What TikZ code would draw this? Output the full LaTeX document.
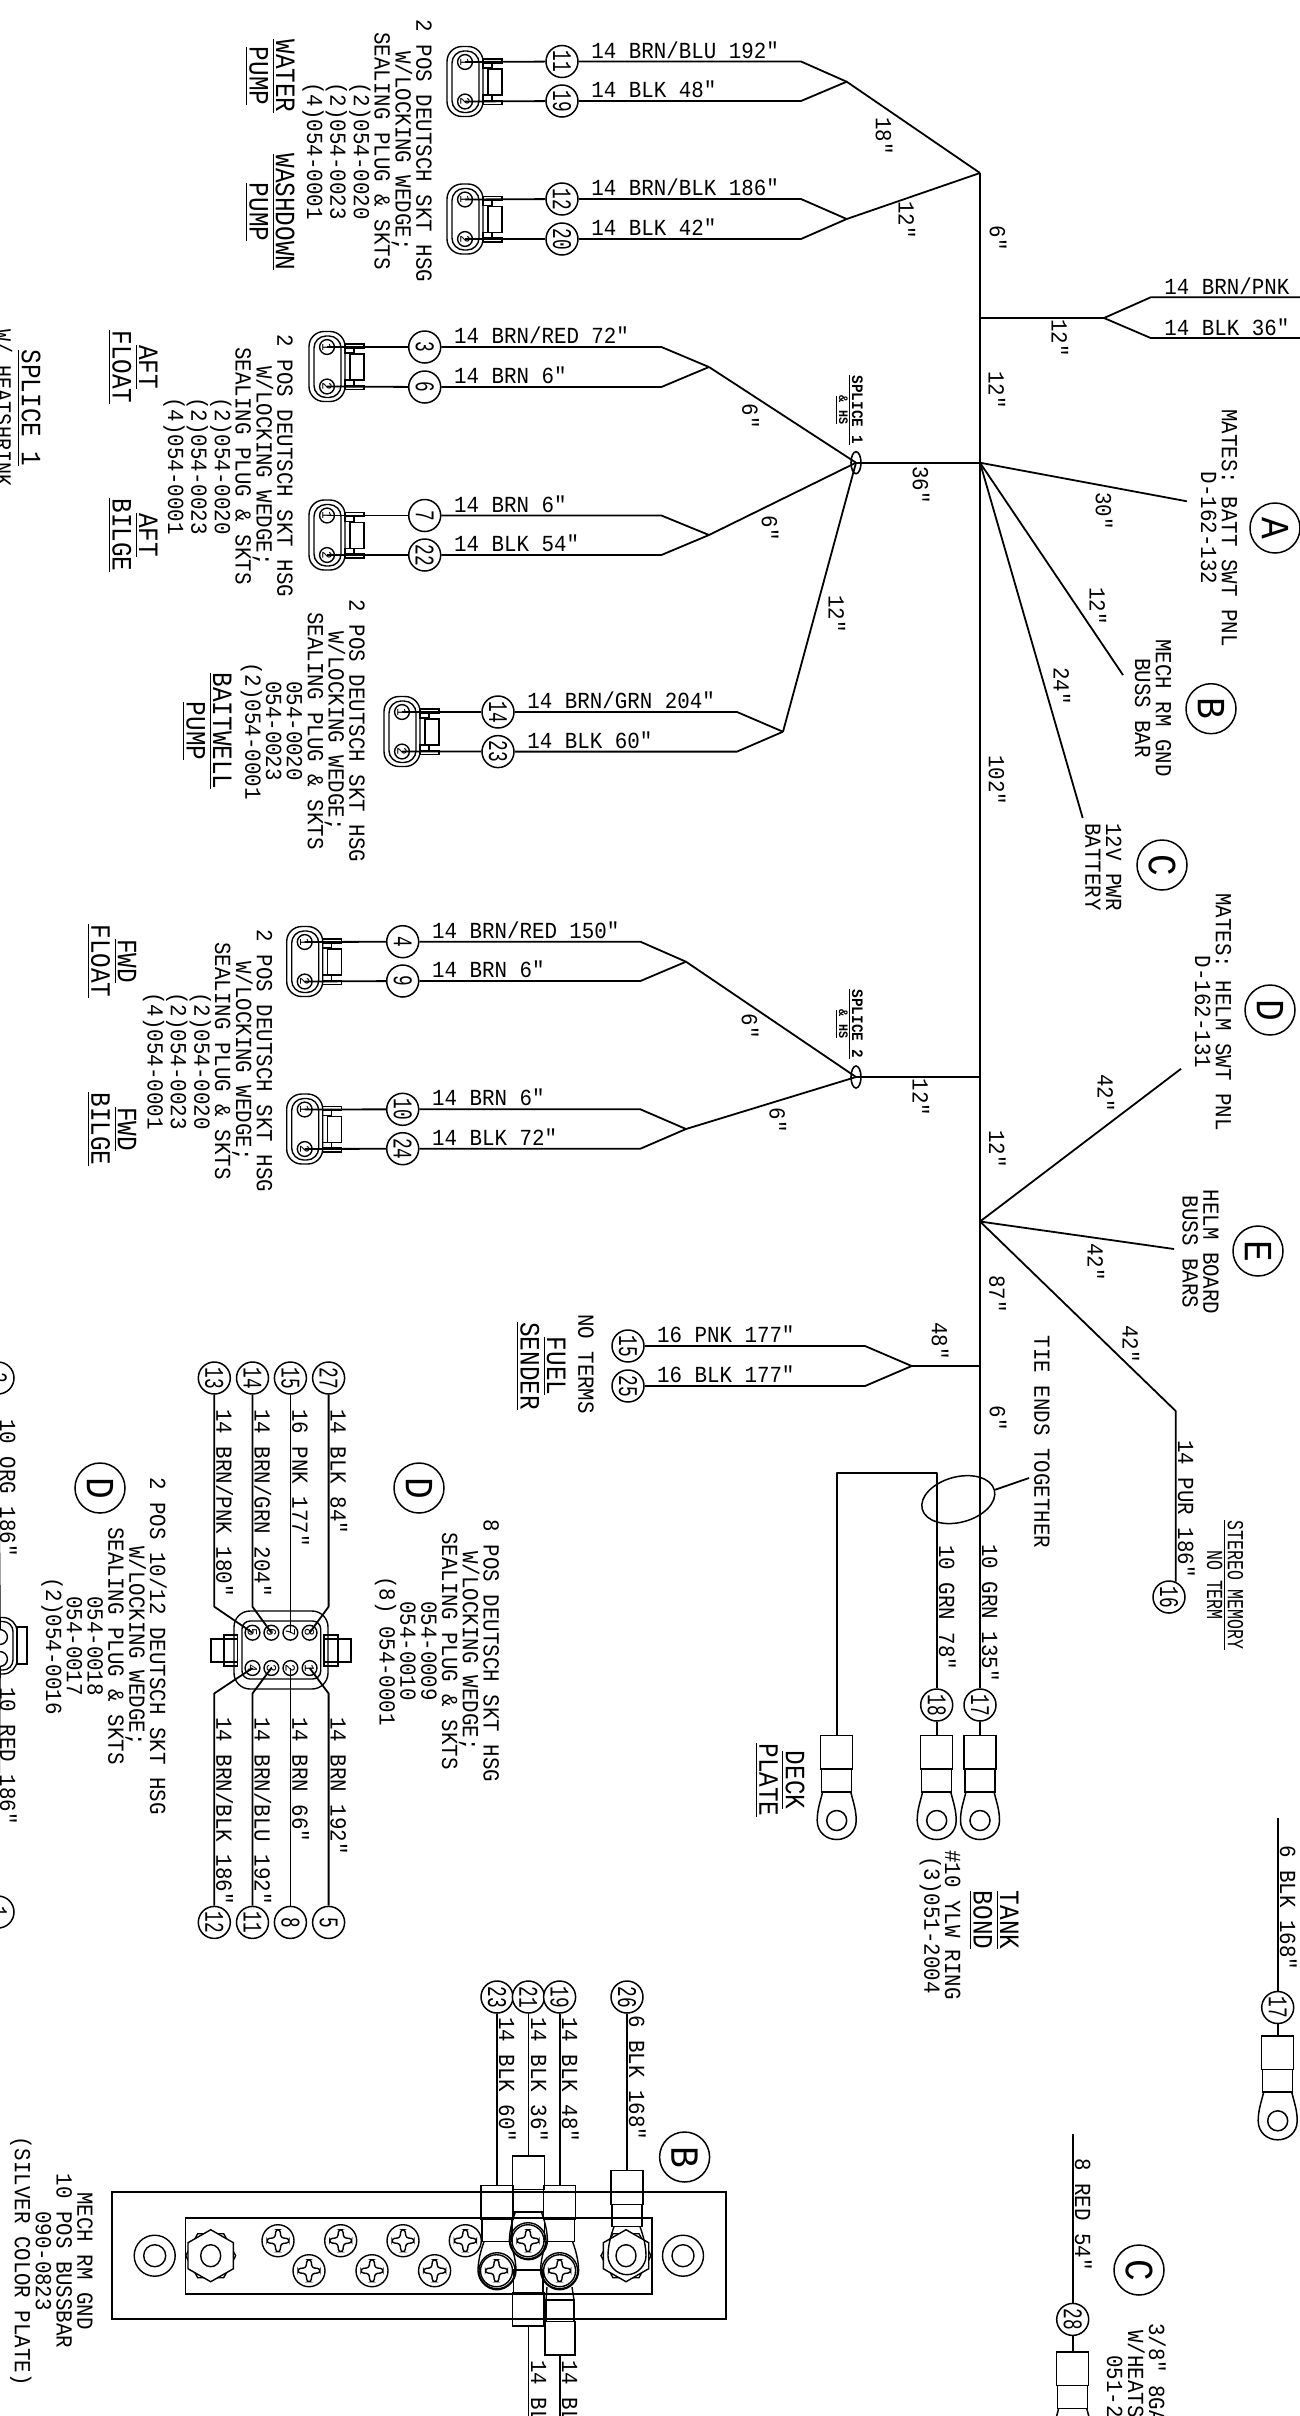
\documentclass[tikz,border=0pt]{standalone}
\usepackage{fontspec}
\usetikzlibrary{shapes.geometric}
\setmainfont[FakeStretch=0.905]{Liberation Mono}
\newfontfamily\titlefam[FakeStretch=0.87]{Liberation Mono}
\newfontfamily\boldfam[FakeStretch=0.9]{Liberation Mono Bold}
\newfontfamily\circfam[FakeStretch=0.66]{Liberation Mono}
\newfontfamily\narrowfam[FakeStretch=0.72]{Liberation Mono}
\newcommand{\fLab}{\fontsize{11.5}{10.4}\selectfont}
\newcommand{\fTit}{\titlefam\fontsize{14}{13.2}\selectfont}
\newcommand{\fBig}{\fontsize{20}{20}\selectfont}
\newcommand{\fPin}{\fontsize{7}{7}\selectfont}
\newcommand{\fSpl}{\boldfam\fontsize{8}{7.5}\selectfont}
\newcommand{\fCirc}{\circfam\fontsize{13.5}{13.5}\selectfont}
\newcommand{\fNar}{\narrowfam\fontsize{11.5}{10.4}\selectfont}
\tikzset{
 wire/.style={line width=0.9pt,line join=round},
 trunk/.style={line width=1.25pt,line join=round},
 thinl/.style={line width=0.7pt},
 wl/.style={anchor=base west,inner sep=0pt,font=\fLab},
 wr/.style={rotate=-90,anchor=base west,inner sep=0pt,font=\fLab},
 blk/.style={rotate=-90,align=center,inner sep=0pt,font=\fLab},
 tit/.style={rotate=-90,align=center,inner sep=0pt,font=\fTit},
 spl/.style={rotate=-90,align=center,inner sep=0pt,font=\fSpl},
 dim/.style={rotate=-90,inner sep=0pt,font=\fLab},
 wc/.style={draw,circle,line width=0.75pt,minimum size=16pt,inner sep=0pt,rotate=-90,font=\fCirc,fill=white},
 bc/.style={draw,circle,line width=0.75pt,minimum size=25pt,inner sep=0pt,rotate=-90,font=\fBig},
 pinc/.style={draw,circle,line width=0.7pt,minimum size=7.4pt,inner sep=0pt,rotate=-90,font=\fPin},
 splc/.style={draw,ellipse,line width=0.8pt,minimum width=5pt,minimum height=11pt,inner sep=0pt},
}
% two-pin housing: #1 name, #2 pin x, #3 pin-1 y
\newcommand{\dtwo}[3]{%
 \begin{scope}[shift={(#2,#3)},thinl]
  \draw[rounded corners=7.5pt] (-18,-15.5) rectangle (18,54.5);
  \draw[rounded corners=6pt] (-13,-11) rectangle (14,50.5);
  \draw (18,-3) rectangle (37,1);
  \draw (18,38.5) rectangle (37,42.5);
  \draw (23,7) rectangle (37,33);
  \draw (18,1) rectangle (27,6);
  \draw (18,33) rectangle (27,38.5);
  \node[pinc] (#1a) at (0,0) {1};
  \node[pinc] (#1b) at (0,39.5) {2};
 \end{scope}}
% one wire leg: #1 name, #2 number, #3 circle x, #4 y, #5 pin node, #6 bend x, #7 merge, #8 label
\newcommand{\leg}[8]{%
 \node[wc] (#1) at (#3,#4) {#2};
 \coordinate (#1b) at (#6,#4);
 \draw[wire] (#5.center) -- (#1);
 \draw[wire] (#1) -- (#1b) -- (#7);
 \node[wl] (#1t) at ({#3+29},{#4-3.5}) {#8};}
% ring terminal: #1 name of top coordinate, #2 x, #3 top y
\newcommand{\ringterm}[3]{%
 \coordinate (#1) at (#2,#3);
 \begin{scope}[shift={(#2,#3)},line width=0.75pt]
  \draw (-16,0) rectangle (16,33.5);
  \draw (-15,33.5) rectangle (15,56.3);
  \draw (-14,56.3) .. controls (-17,68) and (-19.5,75) .. (-19.5,85)
   .. controls (-19.5,97) and (-10,104) .. (0,104)
   .. controls (10,104) and (19.5,97) .. (19.5,85)
   .. controls (19.5,75) and (17,68) .. (14,56.3);
  \draw (0,85) circle [radius=10];
 \end{scope}}
% screw on the bar
\newcommand{\screw}[2]{%
 \begin{scope}[shift={(#1,#2)},thinl]
  \draw (0,0) circle [radius=16];
  \draw[rounded corners=1.2pt] (-2,-11) -- (2,-11) -- (3,-3) -- (11,-2) -- (11,2) -- (3,3) -- (2,11) -- (-2,11) -- (-3,3) -- (-11,2) -- (-11,-2) -- (-3,-3) -- cycle;
 \end{scope}}
% nut
\newcommand{\nut}[2]{%
 \begin{scope}[shift={(#1,#2)},thinl]
  \draw (-25,0) -- (-13,-22) -- (13,-22) -- (25,0) -- (13,22) -- (-13,22) -- cycle;
  \draw[fill=white] (0,-26) -- (22.7,-13) -- (22.7,13) -- (0,26) -- (-22.7,13) -- (-22.7,-13) -- cycle;
  \draw (0,0) ellipse [x radius=10,y radius=11];
 \end{scope}}
% terminal on the bar: #1 x, #2 top y, #3 screw y
\newcommand{\busterm}[3]{%
 \begin{scope}[shift={(#1,#2)},thinl]
  \draw (-16,0) rectangle (16,33.5);
  \draw (-15,33.5) rectangle (15,56);
 \end{scope}
 \draw[thinl] ({#1-13},{#2+56}) .. controls ({#1-16},{#2+64}) and ({#1-19},{#3-10}) .. ({#1-19},#3)
   .. controls ({#1-19},{#3+10}) and ({#1-10},{#3+19}) .. (#1,{#3+19})
   .. controls ({#1+10},{#3+19}) and ({#1+19},{#3+10}) .. ({#1+19},#3)
   .. controls ({#1+19},{#3-10}) and ({#1+16},{#2+64}) .. ({#1+13},{#2+56});}
\begin{document}
\begin{tikzpicture}[x=0.5pt,y=-0.5pt]
\path[use as bounding box,fill=white] (0,0) rectangle (1300,2416);
\clip (0,0) rectangle (1300,2416);
% trunk and junctions
\coordinate (jt) at (980,173);
\coordinate (jb) at (980,318);
\coordinate (j1) at (980,462.7);
\coordinate (j2) at (980,1077);
\coordinate (j3) at (980,1221.5);
\coordinate (j4) at (980,1366);
\node[wc] (w17a) at (980,1705) {17};
\draw[trunk] (jt) -- (w17a);
% top connectors
\coordinate (m1) at (846.7,81.7);
\coordinate (m2) at (846.7,219);
\dtwo{ca}{465}{62}
\leg{w11}{11}{562}{61.5}{caa}{801}{m1}{14 BRN/BLU 192″}
\leg{w19}{19}{562}{101}{cab}{801}{m1}{14 BLK 48″}
\dtwo{cb}{465}{199.5}
\leg{w12}{12}{562}{199}{cba}{801}{m2}{14 BRN/BLK 186″}
\leg{w20}{20}{562}{239}{cbb}{801}{m2}{14 BLK 42″}
\draw[wire] (m1) -- (jt);
\draw[wire] (m2) -- (jt);
\node[blk] (b1) at (367,151) {2 POS DEUTSCH SKT HSG\\W/LOCKING WEDGE;\\SEALING PLUG \& SKTS\\(2)054-0020\\(2)054-0023\\(4)054-0001};
\node[tit] (t1) at (270,76) {\underline{WATER}\\\underline{PUMP}};
\node[tit] (t2) at (270,212) {\underline{WASHDOWN}\\\underline{PUMP}};
\node[dim] (d1) at (884,136) {18″};
\node[dim] (d2) at (907,220) {12″};
\node[dim] (d3) at (998,238) {6″};
% branch to right
\coordinate (f1) at (1104,318);
\coordinate (f1a) at (1150.7,297.3);
\coordinate (f1b) at (1150.7,338);
\coordinate (e1a) at (1300,297.3);
\coordinate (e1b) at (1300,338);
\draw[wire] (jb) -- (f1);
\draw[wire] (f1) -- (f1a) -- (e1a);
\draw[wire] (f1) -- (f1b) -- (e1b);
\node[wl] (l1) at (1164,294) {14 BRN/PNK};
\node[wl] (l2) at (1164,335) {14 BLK 36″};
\node[dim] (d4) at (1060,338) {12″};
\node[dim] (d5) at (997,390) {12″};
% splice 1
\node[splc] (sp1) at (856,462.7) {};
\draw[wire] (sp1.center) -- (j1);
\node[spl] (s1) at (849,410) {\underline{SPLICE 1}\\[-1pt]\underline{\fontsize{6.5}{6.5}\selectfont \& HS}};
\node[dim] (d6) at (921,485) {36″};
\coordinate (m3) at (709,367);
\coordinate (m4) at (709,535);
\dtwo{cc}{327}{347}
\leg{w3}{3}{424.7}{347}{cca}{661.4}{m3}{14 BRN/RED 72″}
\leg{w6}{6}{424.7}{387}{ccb}{661.4}{m3}{14 BRN 6″}
\dtwo{cd}{327}{515.5}
\leg{w7}{7}{424.7}{515.5}{cda}{661.4}{m4}{14 BRN 6″}
\leg{w22}{22}{424.7}{555}{cdb}{661.4}{m4}{14 BLK 54″}
\draw[wire] (m3) -- (sp1.center);
\draw[wire] (m4) -- (sp1.center);
\node[blk] (b2) at (228,466) {2 POS DEUTSCH SKT HSG\\W/LOCKING WEDGE;\\SEALING PLUG \& SKTS\\(2)054-0020\\(2)054-0023\\(4)054-0001};
\node[tit] (t3) at (133,367) {\underline{AFT}\\\underline{FLOAT}};
\node[tit] (t4) at (133,535) {\underline{AFT}\\\underline{BILGE}};
\node[dim] (d7) at (750.6,416) {6″};
\node[dim] (d8) at (770,528) {6″};
\node[dim] (d9) at (837,614) {12″};
\coordinate (m5) at (783,731.7);
\dtwo{ce}{402}{712}
\leg{w14}{14}{498}{712}{cea}{737}{m5}{14 BRN/GRN 204″}
\leg{w23}{23}{498}{751.6}{ceb}{737}{m5}{14 BLK 60″}
\draw[wire] (m5) -- (sp1.center);
\node[blk] (b3) at (302.7,731) {2 POS DEUTSCH SKT HSG\\W/LOCKING WEDGE;\\SEALING PLUG \& SKTS\\054-0020\\054-0023\\(2)054-0001};
\node[tit] (t5) at (207,731) {\underline{BAITWELL}\\\underline{PUMP}};
\node[tit] (t6) at (18,408) {\underline{SPLICE 1}\\{\fLab W/ HEATSHRINK}};
% A B C
\coordinate (ea) at (1187,501.3);
\coordinate (eb) at (1123,675);
\coordinate (ec) at (1082.7,818);
\draw[wire] (j1) -- (ea);
\draw[wire] (j1) -- (eb);
\draw[wire] (j1) -- (ec);
\node[dim] (d10) at (1104,511) {30″};
\node[dim] (d11) at (1098,606) {12″};
\node[dim] (d12) at (1062,686) {24″};
\node[dim] (d13) at (997,780) {102″};
\node[bc] (ca1) at (1275,528) {A};
\node[blk] (b4) at (1219,528) {MATES: BATT SWT PNL\\D-162-132};
\node[bc] (cb1) at (1211,708.7) {B};
\node[blk] (b5) at (1153,708) {MECH RM GND\\BUSS BAR};
\node[bc] (cc1) at (1162,865) {C};
\node[blk] (b6) at (1103.5,867) {12V PWR\\BATTERY};
% forward connectors
\node[splc] (sp2) at (856,1077) {};
\draw[wire] (sp2.center) -- (j2);
\node[spl] (s2) at (849,1024) {\underline{SPLICE 2}\\[-1pt]\underline{\fontsize{6.5}{6.5}\selectfont \& HS}};
\coordinate (m6) at (686,961.7);
\coordinate (m7) at (686,1129);
\dtwo{cf}{304.7}{942}
\leg{w4}{4}{402.7}{941.7}{cfa}{640.4}{m6}{14 BRN/RED 150″}
\leg{w9}{9}{402.7}{981}{cfb}{640.4}{m6}{14 BRN 6″}
\dtwo{cg}{304.7}{1109.5}
\leg{w10}{10}{402.7}{1109.3}{cga}{640.4}{m7}{14 BRN 6″}
\leg{w24}{24}{402.7}{1148.7}{cgb}{640.4}{m7}{14 BLK 72″}
\draw[wire] (m6) -- (sp2.center);
\draw[wire] (m7) -- (sp2.center);
\node[blk] (b7) at (207.5,1061) {2 POS DEUTSCH SKT HSG\\W/LOCKING WEDGE;\\SEALING PLUG \& SKTS\\(2)054-0020\\(2)054-0023\\(4)054-0001};
\node[tit] (t7) at (111.7,961) {\underline{FWD}\\\underline{FLOAT}};
\node[tit] (t8) at (111.7,1129) {\underline{FWD}\\\underline{BILGE}};
\node[dim] (d14) at (750,1026) {6″};
\node[dim] (d15) at (777.8,1120) {6″};
\node[dim] (d16) at (921,1097.6) {12″};
\node[dim] (d17) at (997.5,1149) {12″};
% D E stereo
\coordinate (ed) at (1181,1068.8);
\coordinate (ee) at (1174,1249);
\coordinate (es) at (1175.7,1411);
\draw[wire] (j3) -- (ed);
\draw[wire] (j3) -- (ee);
\node[wc] (w16) at (1169,1597) {16};
\draw[wire] (j3) -- (es) -- (1175.7,1581.5);
\node[wr] (l3) at (1178,1440) {14 PUR 186″};
\node[bc] (cd1) at (1270,1010) {D};
\node[blk] (b8) at (1213,1012) {MATES: HELM SWT PNL\\D-162-131};
\node[bc] (ce1) at (1258,1251) {E};
\node[blk] (b9) at (1200.5,1252) {HELM BOARD\\BUSS BARS};
\node[dim] (d18) at (1106,1093) {42″};
\node[dim] (d19) at (1096,1262) {42″};
\node[dim] (d20) at (1131,1344) {42″};
\node[dim] (d21) at (997.5,1294) {87″};
\node[dim] (d22) at (940,1341) {48″};
\node[dim] (d23) at (998,1418) {6″};
\node[blk,font=\fNar] (b10) at (1225,1585) {\underline{STEREO MEMORY}\\NO TERM};
% fuel
\coordinate (m8) at (911.7,1366);
\node[wc] (w15) at (628,1346) {15};
\node[wc] (w25) at (628,1386) {25};
\coordinate (m8a) at (865,1346);
\coordinate (m8b) at (865,1386);
\draw[wire] (w15) -- (m8a) -- (m8);
\draw[wire] (w25) -- (m8b) -- (m8);
\draw[wire] (m8) -- (j4);
\node[wl] (l4) at (656.7,1342) {16 PNK 177″};
\node[wl] (l5) at (656.7,1382) {16 BLK 177″};
\node[blk] (b11) at (586,1364) {NO TERMS};
\node[tit] (t9) at (541,1366) {\underline{FUEL}\\\underline{SENDER}};
% ground ties
\node[draw,ellipse,rotate=15,line width=0.75pt,minimum width=37.3pt,minimum height=22.7pt,inner sep=0pt] (tie) at (958.3,1499.6) {};
\coordinate (tiee) at (1029,1478);
\draw[wire] (tie.east) -- (tiee);
\node[blk] (b12) at (1042,1442) {TIE ENDS TOGETHER};
\coordinate (co1) at (936.7,1472.6);
\coordinate (co2) at (836.7,1472.6);
\node[wc] (w18) at (936.7,1705) {18};
\ringterm{r1}{836.7}{1735.5}
\ringterm{r2}{936.7}{1735.5}
\ringterm{r3}{980}{1735.5}
\draw[wire] (r1) -- (co2) -- (co1) -- (w18);
\draw[wire] (w18) -- (r2);
\draw[wire] (w17a) -- (r3);
\node[wr] (l6) at (939,1545) {10 GRN 78″};
\node[wr] (l7) at (982,1544) {10 GRN 135″};
\node[tit] (t10) at (780,1780) {\underline{DECK}\\\underline{PLATE}};
\node[blk] (b13) at (940,1925) {\#10 YLW RING\\(3)051-2004};
\node[tit] (t11) at (994,1920) {\underline{TANK}\\\underline{BOND}};
% 8-way connector
\foreach \nm/\nn/\xx/\yy in {w27/27/328.6/1378,w15b/15/290.4/1378,w14b/14/252.5/1378,w13/13/214.3/1378,w5/5/328.6/1922.4,w8/8/290.4/1922.4,w11b/11/252.5/1922.4,w12b/12/214.3/1922.4}
  \node[wc] (\nm) at (\xx,\yy) {\nn};
\begin{scope}[thinl]
 \draw[rounded corners=8pt] (234,1611) rectangle (328,1689);
 \draw[rounded corners=4pt] (242,1621) rectangle (320.7,1679);
 \draw (211,1639) rectangle (237.5,1662);
 \draw (224,1635) rectangle (237.5,1666);
 \draw (324,1639) rectangle (351,1662);
 \draw (324,1635) rectangle (338,1666);
\end{scope}
\foreach \nm/\nn/\xx/\yy in {p8/8/309.6/1632.7,p7/7/290.4/1632.7,p6/6/271.4/1632.7,p5/5/252.5/1632.7,p1/1/309.6/1668,p2/2/290.4/1668,p3/3/271.4/1668,p4/4/252.5/1668}
  \node[pinc] (\nm) at (\xx,\yy) {\nn};
\coordinate (k27) at (328.6,1606.7);
\coordinate (k14) at (252.5,1606.7);
\coordinate (k13) at (214.3,1606.7);
\coordinate (k5) at (328.6,1693.4);
\coordinate (k11) at (252.5,1693.4);
\coordinate (k12) at (214.3,1693.4);
\draw[wire] (w27) -- (k27) -- (p8.center);
\draw[wire] (w15b) -- (p7.center);
\draw[wire] (w14b) -- (k14) -- (p6.center);
\draw[wire] (w13) -- (k13) -- (p5.center);
\draw[wire] (w5) -- (k5) -- (p1.center);
\draw[wire] (w8) -- (p2.center);
\draw[wire] (w11b) -- (k11) -- (p3.center);
\draw[wire] (w12b) -- (k12) -- (p4.center);
\node[wr] (l8) at (330.5,1409) {14 BLK 84″};
\node[wr] (l9) at (292.3,1409) {16 PNK 177″};
\node[wr] (l10) at (254.5,1409) {14 BRN/GRN 204″};
\node[wr] (l11) at (216.3,1409) {14 BRN/PNK 180″};
\node[wr] (l12) at (330.5,1717) {14 BRN 192″};
\node[wr] (l13) at (292.3,1717) {14 BRN 66″};
\node[wr] (l14) at (254.5,1717) {14 BRN/BLU 192″};
\node[wr] (l15) at (216.3,1717) {14 BRN/BLK 186″};
\node[bc] (cd2) at (419,1488) {D};
\node[bc] (cd3) at (100,1488) {D};
\node[blk] (b14) at (437,1651) {8 POS DEUTSCH SKT HSG\\W/LOCKING WEDGE;\\SEALING PLUG \& SKTS\\054-0009\\054-0010\\(8) 054-0001};
\node[blk] (b15) at (104,1646) {2 POS 10/12 DEUTSCH SKT HSG\\W/LOCKING WEDGE;\\SEALING PLUG \& SKTS\\054-0018\\054-0017\\(2)054-0016};
% cropped connector at left edge
\node[wc] (w2) at (-2,1378) {2};
\node[wc] (w1) at (-2,1912) {1};
\begin{scope}[thinl]
 \draw[rounded corners=7pt] (-40,1617.5) rectangle (17,1674);
 \draw[rounded corners=5pt] (-36,1621.5) rectangle (13,1670);
 \draw (17,1627) rectangle (27,1664);
 \node[pinc] (q1) at (0,1637) {};
 \node[pinc] (q2) at (0,1659) {};
\end{scope}
\draw[wire] (w2) -- (q1);
\draw[wire] (w1) -- (q2);
\node[wr] (l16) at (0,1419) {10 ORG 186″};
\node[wr] (l17) at (0,1687) {10 RED 186″};
% bus bar
\draw[line width=0.8pt] (111.8,2192) rectangle (726,2318.7);
\draw[line width=0.8pt] (185.4,2217.7) rectangle (652,2293.7);
\begin{scope}[thinl]
 \draw (154.7,2255.7) circle [radius=20.5];
 \draw (154.7,2255.7) circle [radius=11];
 \draw (683,2255.7) circle [radius=20.5];
 \draw (683,2255.7) circle [radius=11];
\end{scope}
\foreach \xx in {278,340.7,403,465.3,528} {\screw{\xx}{2240.7}}
\foreach \xx in {309,372,434.6,496.5,559.6} {\screw{\xx}{2270.7}}
\nut{210.7}{2255.7}
\nut{626}{2255.7}
\busterm{497}{2185.7}{2270.7}
\busterm{528.4}{2156}{2240.7}
\busterm{559.6}{2185.7}{2270.7}
\busterm{627}{2170.7}{2255.7}
\begin{scope}[thinl]
 \draw (528,2240.7) circle [radius=18];
 \draw (497,2270.7) circle [radius=18];
 \draw (559.6,2270.7) circle [radius=18];
 \draw (512.5,2293) rectangle (544,2326);
 \draw (513.5,2270) rectangle (543,2293);
 \draw (545,2321.7) rectangle (575,2355);
 \draw (546,2300) rectangle (574,2321.7);
 \draw (547,2287) -- (546,2300);
 \draw (572,2287) -- (574,2300);
\end{scope}
\node[wc] (w23b) at (497,1997) {23};
\node[wc] (w21) at (528.4,1997) {21};
\node[wc] (w19b) at (559.6,1997) {19};
\node[wc] (w26) at (627,1997) {26};
\coordinate (g23) at (497,2185.7);
\coordinate (g21) at (528.4,2156);
\coordinate (g19) at (559.6,2185.7);
\coordinate (g26) at (627,2170.7);
\draw[wire] (w23b) -- (g23);
\draw[wire] (w21) -- (g21);
\draw[wire] (w19b) -- (g19);
\draw[wire] (w26) -- (g26);
\coordinate (g21b) at (528.4,2326);
\coordinate (g19b) at (560,2355);
\coordinate (x21) at (528.4,2416);
\coordinate (x19) at (560,2416);
\draw[wire] (g21b) -- (x21);
\draw[wire] (g19b) -- (x19);
\node[wr] (l18) at (499,2016.7) {14 BLK 60″};
\node[wr] (l19) at (531,2016.7) {14 BLK 36″};
\node[wr] (l20) at (562,2016.7) {14 BLK 48″};
\node[wr] (l21) at (629,2015) {6 BLK 168″};
\node[wr] (l22) at (531,2360) {14 BL};
\node[wr] (l23) at (562,2360) {14 BL};
\node[bc] (cb2) at (684.6,2157) {B};
\node[blk] (b16) at (51.5,2261) {MECH RM GND\\10 POS BUSSBAR\\090-0823\\(SILVER COLOR PLATE)};
% right-hand terminals
\coordinate (h17) at (1277.7,1817.7);
\node[wc] (w17b) at (1277.7,2007.5) {17};
\ringterm{r4}{1277.7}{2035.8}
\draw[wire] (h17) -- (w17b);
\draw[wire] (w17b) -- (r4);
\node[wr] (l24) at (1280,1845) {6 BLK 168″};
\coordinate (h28) at (1072.7,2134);
\node[wc] (w28) at (1072.7,2319.4) {28};
\ringterm{r5}{1072.7}{2352}
\draw[wire] (h28) -- (w28);
\draw[wire] (w28) -- (r5);
\node[wr] (l25) at (1075,2158) {8 RED 54″};
\node[bc] (cc2) at (1139,2270) {C};
\node[wr] (l26) at (1149,2322.6) {3/8″ 8GA};
\node[wr] (l27) at (1128,2329.7) {W/HEATS};
\node[wr] (l28) at (1107,2354.8) {051-2};
\end{tikzpicture}
\end{document}
